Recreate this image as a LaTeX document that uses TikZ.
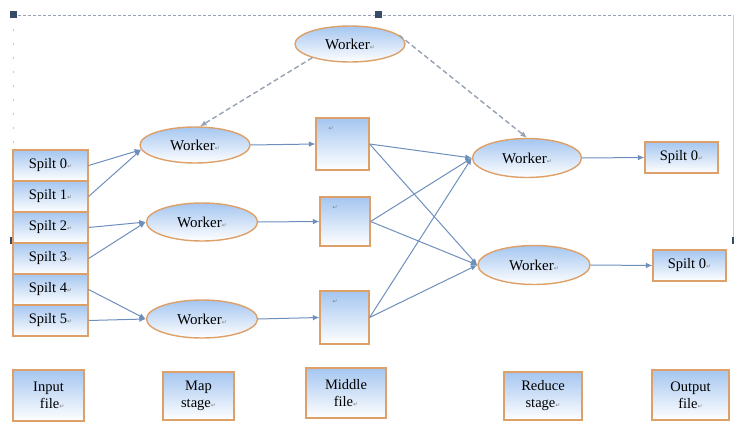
\documentclass[tikz,border=0pt]{standalone}
\usepackage{fontspec}
\setmainfont{Liberation Serif}
\newfontfamily\symf{DejaVu Sans}
\usetikzlibrary{shapes.geometric,arrows.meta}
\definecolor{arr}{RGB}{110,143,188}
\definecolor{dsh}{RGB}{150,162,178}
\definecolor{orb}{RGB}{222,160,105}
\definecolor{lblue}{RGB}{165,198,240}
\definecolor{hdl}{RGB}{55,75,105}
\newcommand{\parmark}{{\symf\fontsize{6}{6}\selectfont\textcolor{gray}{↵}}}
\tikzset{
  worker/.style={ellipse, draw=orb, line width=1.4pt, top color=lblue, bottom color=white, inner sep=0pt, font=\fontsize{15}{17}\selectfont},
  box/.style={rectangle, draw=orb, line width=1.2pt, top color=lblue, bottom color=white, inner sep=0pt, font=\fontsize{14.5}{16}\selectfont},
  lab/.style={box, align=center, font=\fontsize{14.5}{17}\selectfont},
  flow/.style={draw=arr, line width=1pt, -{Latex[length=6.5pt,width=5.5pt]}},
  ctrl/.style={draw=dsh, line width=1.4pt, dash pattern=on 5pt off 3pt, -{Latex[length=6.5pt,width=5.5pt]}},
  handle/.style={fill=hdl, draw=none, minimum size=7pt, inner sep=0pt, rectangle}
}
\begin{document}
\begin{tikzpicture}[x=1pt,y=1pt]
\useasboundingbox (0,0) rectangle (734,-425);
% selection frame
\draw[dsh, line width=0.8pt, dash pattern=on 3pt off 2pt] (13,-15) -- (734,-15);
\draw[dsh!60, line width=0.6pt, dash pattern=on 2pt off 12pt] (13,-15) -- (13,-150);
\draw[dsh!50, line width=0.5pt] (733,-15) -- (733,-240);
\node[handle] (h1) at (13,-15) {};
\node[handle] (h2) at (378,-15) {};
\node[handle] (h3) at (13,-240) {};
\node[handle, minimum width=3pt] (h4) at (733,-240) {};
% workers
\node[worker, minimum width=110pt, minimum height=36pt] (wt) at (350,-44) {Worker\parmark};
\node[worker, minimum width=110pt, minimum height=36pt] (w1) at (195,-145) {Worker\parmark};
\node[worker, minimum width=111pt, minimum height=38pt] (w2) at (202,-222) {Worker\parmark};
\node[worker, minimum width=111pt, minimum height=38pt] (w3) at (202,-319) {Worker\parmark};
\node[worker, minimum width=109pt, minimum height=39pt] (r1) at (527,-158) {Worker\parmark};
\node[worker, minimum width=112pt, minimum height=39pt] (r2) at (534,-265) {Worker\parmark};
% splits
\foreach \i in {0,...,5}{
  \node[box, minimum width=75pt, minimum height=31pt] (s\i) at (50.5,-165.5-31*\i) {Spilt \i\parmark};
}
% middle files
\node[box, minimum width=53pt, minimum height=52pt, label={[anchor=north west, inner sep=0pt, xshift=13pt, yshift=-9pt]north west:\parmark}] (m1) at (342.5,-144) {};
\node[box, minimum width=50pt, minimum height=49pt, label={[anchor=north west, inner sep=0pt, xshift=13pt, yshift=-9pt]north west:\parmark}] (m2) at (345,-221.5) {};
\node[box, minimum width=49pt, minimum height=53pt, label={[anchor=north west, inner sep=0pt, xshift=13pt, yshift=-9pt]north west:\parmark}] (m3) at (344.5,-317.5) {};
% outputs
\node[box, minimum width=73pt, minimum height=31pt] (o1) at (681.5,-157.5) {Spilt 0\parmark};
\node[box, minimum width=73pt, minimum height=31pt] (o2) at (689.5,-265.5) {Spilt 0\parmark};
% bottom legend
\node[lab, minimum width=71pt, minimum height=51pt] (l1) at (48.5,-395.5) {Input\\\ \ file\parmark};
\node[lab, minimum width=71pt, minimum height=48pt] (l2) at (198.5,-396) {Map\\stage\parmark};
\node[lab, minimum width=80pt, minimum height=50pt] (l3) at (346,-393) {Middle\\file\parmark};
\node[lab, minimum width=78pt, minimum height=48pt] (l4) at (543,-396) {Reduce\\stage\parmark};
\node[lab, minimum width=77pt, minimum height=50pt] (l5) at (690.5,-395) {Output\\file\parmark};
% map connections
\draw[flow] (s0.east) -- (w1.185);
\draw[flow] (s1.east) -- (w1.185);
\draw[flow] (s2.east) -- (w2.west);
\draw[flow] (s3.east) -- (w2.west);
\draw[flow] (s4.east) -- (w3.west);
\draw[flow] (s5.east) -- (w3.west);
\draw[flow] (w1.east) -- (m1.west);
\draw[flow] (w2.east) -- (m2.west);
\draw[flow] (w3.east) -- (m3.west);
% shuffle
\foreach \m in {m1,m2,m3}{
  \draw[flow] (\m.east) -- (r1.west);
  \draw[flow] (\m.east) -- (r2.west);
}
\draw[flow] (r1.east) -- (o1.west);
\draw[flow] (r2.east) -- (o2.west);
% control
\draw[ctrl] (wt.200) -- (w1.75);
\draw[ctrl] (wt.10) -- (r1.north);
\end{tikzpicture}
\end{document}
